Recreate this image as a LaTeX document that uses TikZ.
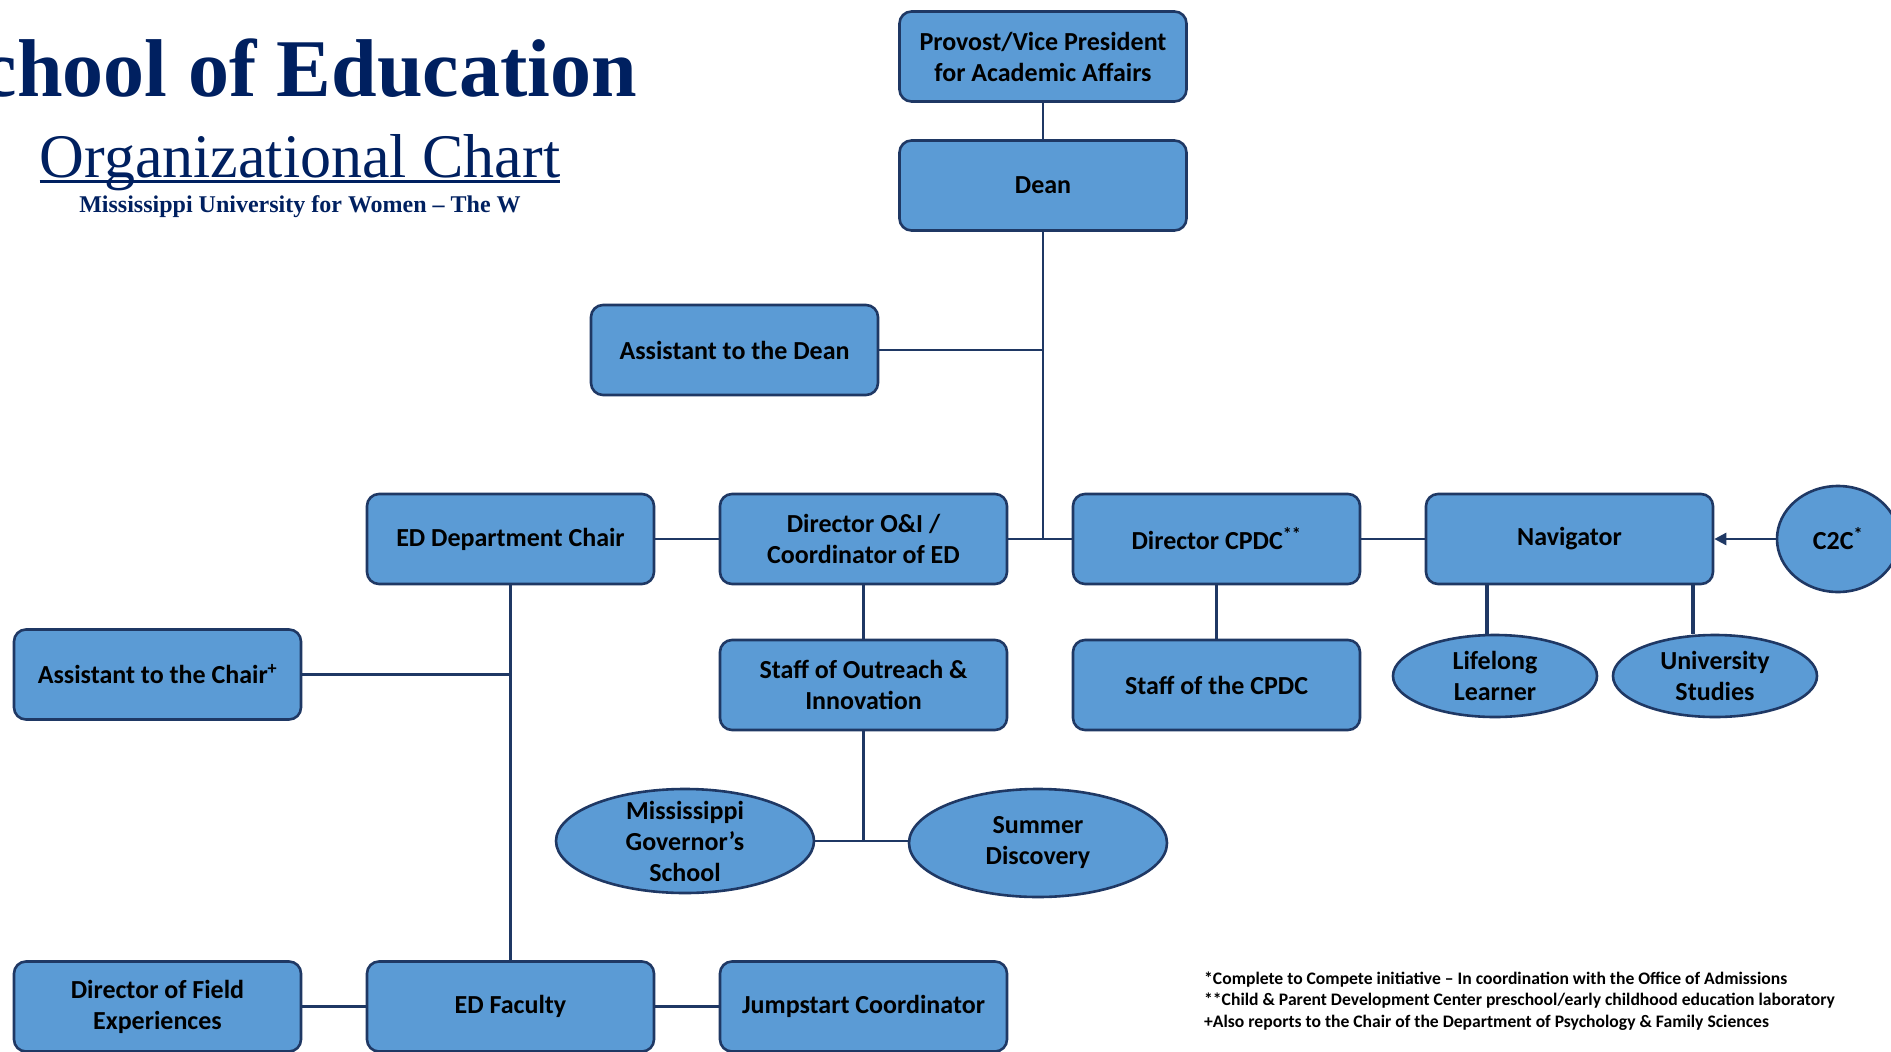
\documentclass[tikz,border=0pt]{standalone}
\usepackage{fontspec}
\setmainfont{Liberation Serif}
\newfontfamily\boxfont{Carlito}
\usepackage{xcolor}
\usetikzlibrary{shapes.geometric, arrows, arrows.meta}
\definecolor{navy}{HTML}{002060}
\definecolor{edgeblue}{HTML}{1F3864}
\definecolor{boxblue}{HTML}{5B9BD5}
\tikzstyle{position} = [rectangle, rounded corners=12pt,
minimum width=287pt,
minimum height=90pt,
align=center,
draw=edgeblue, line width=2.6pt,
fill=boxblue,
font=\boxfont\bfseries\fontsize{26}{31}\selectfont]
\tikzstyle{program} = [ellipse,
inner xsep=0pt, inner ysep=-10pt,
align=center,
draw=edgeblue, line width=2.6pt,
fill=boxblue,
font=\boxfont\bfseries\fontsize{26}{31}\selectfont]
\tikzstyle{connector} = [draw=edgeblue, line width=2.6pt]
\tikzstyle{arrow} = [connector, -{Triangle[length=12pt, width=12pt]}]
\tikzstyle{heading} = [inner sep=0pt, text=navy]
\tikzstyle{footnote} = [anchor=base west, inner sep=0pt,
font=\boxfont\bfseries\fontsize{17.6}{21}\selectfont]

\begin{document}
\begin{tikzpicture}[x=1pt, y=-1pt, node distance=353pt]

\fill [white] (0,0) rectangle (1891,1052);
\useasboundingbox (0,0) rectangle (1891,1052);

% Title
\node (school) [heading, anchor=base east, font=\bfseries\fontsize{82}{82}\selectfont] at (637,96) {School of Education};
\node (orgchart) [heading, anchor=base, font=\fontsize{62}{62}\selectfont] at (300,177) {Organizational Chart};
\draw [navy, line width=3pt] ([yshift=-4pt]orgchart.base west) -- ([yshift=-4pt]orgchart.base east);
\node (university) [heading, anchor=base, font=\bfseries\fontsize{24}{24}\selectfont] at (300,212) {Mississippi University for Women – The W};

% Top of the chart
\node (provost) [position] at (1043,56.5) {Provost/Vice President\\for Academic Affairs};
\node (dean) [position] at (1043,185.5) {Dean};
\node (asstdean) [position] at (734.5,350) {Assistant to the Dean};

% Main row
\node (chair) [position] at (510.5,539) {ED Department Chair};
\node (oi) [position, right of=chair] {Director O\&I /\\Coordinator of ED};
\node (cpdc) [position, right of=oi] {Director CPDC\textsuperscript{**}};
\node (nav) [position, right of=cpdc] {Navigator};
\node (c2c) [program, minimum width=122pt, minimum height=106pt] at (1838,539) {C2C\textsuperscript{*}};

% Second row
\node (asstchair) [position] at (157.5,674.5) {Assistant to the Chair\textsuperscript{+}};
\node (staffoi) [position, below of=oi, node distance=146pt] {Staff of Outreach \&\\Innovation};
\node (staffcpdc) [position, below of=cpdc, node distance=146pt] {Staff of the CPDC};
\node (lifelong) [program, minimum width=204pt, minimum height=82pt] at (1495,676) {Lifelong\\Learner};
\node (univ) [program, minimum width=204pt, minimum height=82pt] at (1715,676) {University\\Studies};

% Programs
\node (msgov) [program, minimum width=258pt, minimum height=104pt] at (685,841) {Mississippi\\Governor’s\\School};
\node (summer) [program, minimum width=258pt, minimum height=108pt, yshift=-2pt] at (1038,841) {Summer\\Discovery};

% Bottom row
\node (fieldexp) [position] at (157.5,1006.5) {Director of Field\\Experiences};
\node (faculty) [position] at (510.5,1006.5) {ED Faculty};
\node (jumpstart) [position] at (863.5,1006.5) {Jumpstart Coordinator};

\draw [connector] (provost) -- (dean);
\draw [connector] (dean) -- (dean |- oi.east);
\draw [connector] (asstdean) -- (asstdean -| dean);
\draw [connector] (chair) -- (oi);
\draw [connector] (oi) -- (cpdc);
\draw [connector] (cpdc) -- (nav);
\draw [arrow] (c2c) -- (nav);
\draw [connector, line width=3.2pt] ([xshift=-8pt]lifelong.north) -- ([xshift=-8pt]lifelong.north |- nav.south);
\draw [connector, line width=3.2pt] ([xshift=-22pt]univ.north) -- ([xshift=-22pt]univ.north |- nav.south);
\draw [connector] (cpdc) -- (staffcpdc);
\draw [connector] (oi) -- (staffoi);
\draw [connector] (staffoi) -- (staffoi |- msgov.east);
\draw [connector] (msgov) -- (msgov -| summer.west);
\draw [connector] (chair) -- (faculty);
\draw [connector] (asstchair) -- (asstchair -| chair);
\draw [connector] (fieldexp) -- (faculty);
\draw [connector] (faculty) -- (jumpstart);

% Notes below the chart
\node (note1) [footnote] at (1204,984) {*Complete to Compete initiative – In coordination with the Office of Admissions};
\node (note2) [footnote] at (1204,1005.5) {**Child \& Parent Development Center preschool/early childhood education laboratory};
\node (note3) [footnote] at (1204,1027) {+Also reports to the Chair of the Department of Psychology \& Family Sciences};

\end{tikzpicture}
\end{document}
